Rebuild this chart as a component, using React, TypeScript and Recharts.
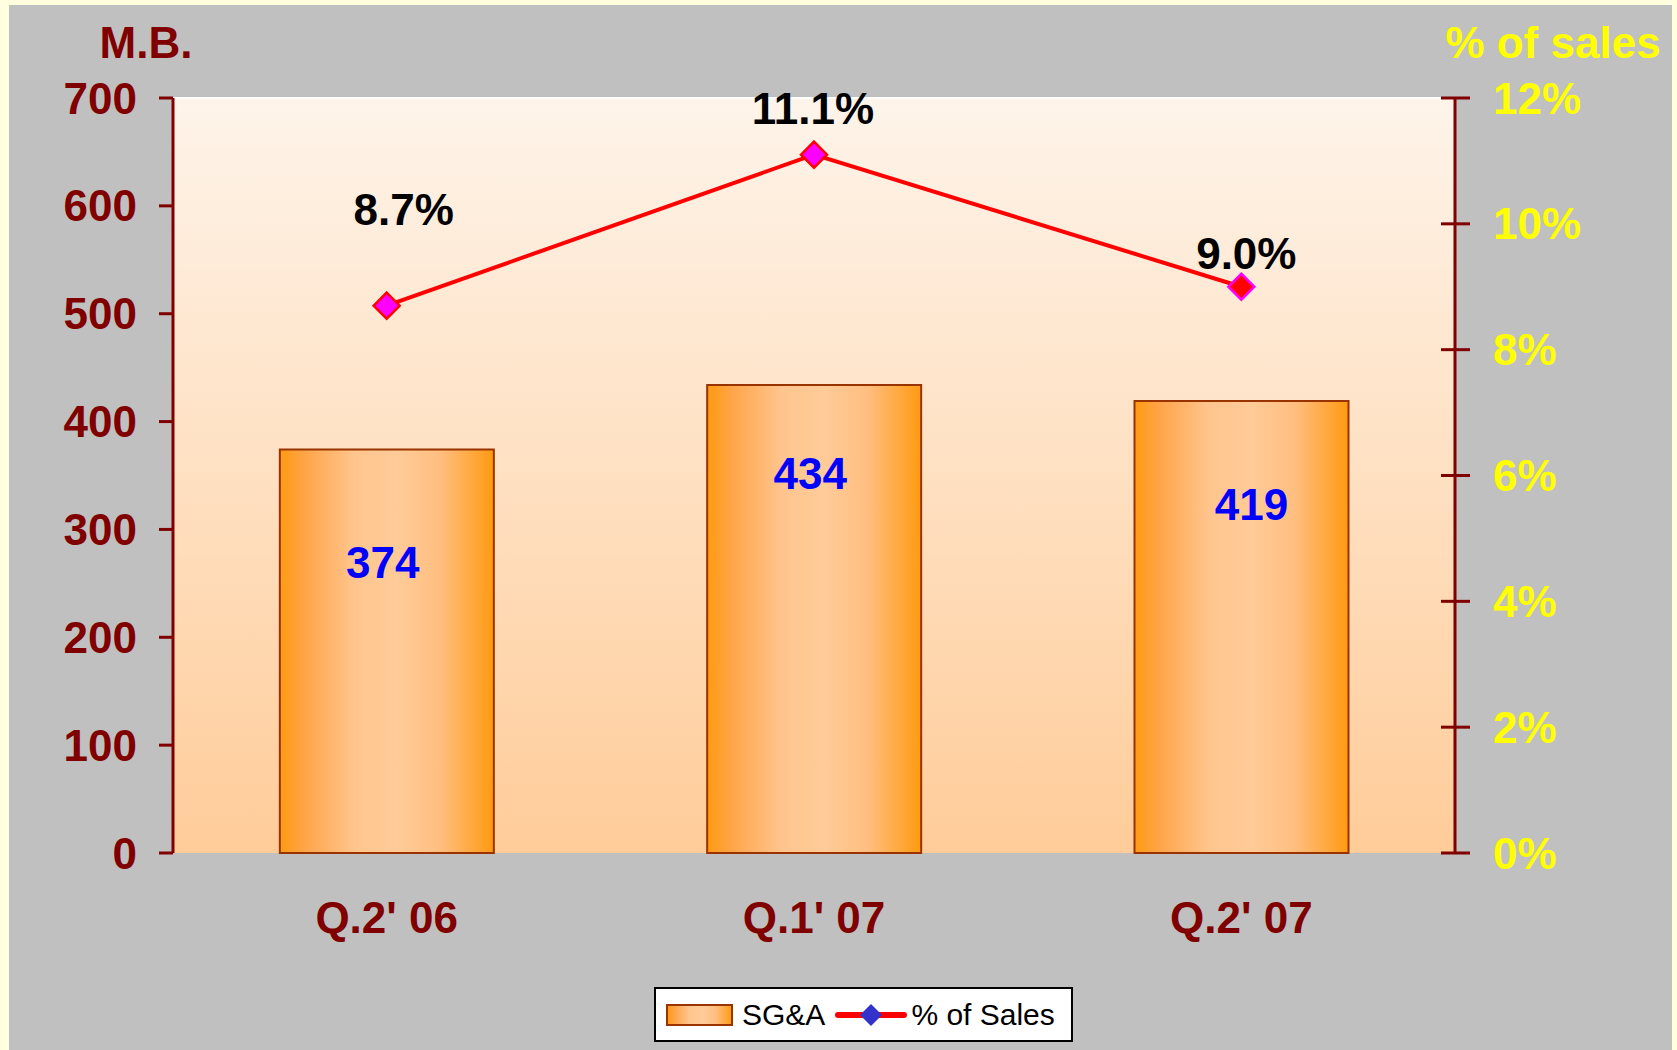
import { ComposedChart, Bar, Line, XAxis, YAxis, Legend, LabelList } from 'recharts';

const quarters = ["Q.2' 06", "Q.1' 07", "Q.2' 07"];
const sgaValues = [374, 434, 419];
const pctOfSales = [8.7, 11.1, 9.0];
const leftTicks = [0, 100, 200, 300, 400, 500, 600, 700];
const rightTicks = [0, 2, 4, 6, 8, 10, 12];
const edgeTicks = [0, 1, 2, 3];

const data = quarters.map((q, i) => ({ q, sga: sgaValues[i], pct: pctOfSales[i], idx: i + 0.5 }));

// hand-placed label nudges, as in the original slide
const pctLabelShift = [
  { dx: 17, dy: -96 },
  { dx: -1, dy: -46 },
  { dx: 5, dy: -33 },
];
const sgaLabelShift = [
  { dx: -4, dy: 113 },
  { dx: -4, dy: 89 },
  { dx: 10, dy: 103 },
];
const markerFill = ['#FF00FF', '#FF00FF', '#FF0000'];
const markerStroke = ['#FF0000', '#FF0000', '#FF00FF'];

const MAROON = '#800000';
const FONT = '"Liberation Sans", Arial, sans-serif';

function Diamond(props: any) {
  const { cx, cy, index } = props;
  if (cx == null || cy == null) return null;
  const r = 13;
  return (
    <path
      d={`M${cx},${cy - r} L${cx + r},${cy} L${cx},${cy + r} L${cx - r},${cy} Z`}
      fill={markerFill[index]}
      stroke={markerStroke[index]}
      strokeWidth={2.5}
    />
  );
}

function PctLabel(props: any) {
  const { x, y, index, value } = props;
  const s = pctLabelShift[index];
  return (
    <text x={x + s.dx} y={y + s.dy} textAnchor="middle" dominantBaseline="central"
      fontFamily={FONT} fontWeight="bold" fontSize={44} fill="#000000">
      {value.toFixed(1)}%
    </text>
  );
}

function SgaLabel(props: any) {
  const { x, y, width, index, value } = props;
  const s = sgaLabelShift[index];
  return (
    <text x={x + width / 2 + s.dx} y={y + s.dy} textAnchor="middle" dominantBaseline="central"
      fontFamily={FONT} fontWeight="bold" fontSize={44} fill="#0000FF">
      {value}
    </text>
  );
}

function RightTick(props: any) {
  const { x, y, payload } = props;
  const axisX = x - 38;
  return (
    <g>
      <line x1={axisX - 14} x2={axisX} y1={y} y2={y} stroke={MAROON} strokeWidth={3} />
      <text x={x} y={y} textAnchor="start" dominantBaseline="central"
        fontFamily={FONT} fontWeight="bold" fontSize={44} fill="#FFFF00">
        {payload.value}%
      </text>
    </g>
  );
}

function LegendBox() {
  return (
    <div style={{
      boxSizing: 'border-box', width: 419, height: 55, background: '#FFFFFF',
      border: '2px solid #000000', display: 'flex', alignItems: 'center',
      fontFamily: FONT, fontSize: 30, color: '#000000', paddingLeft: 10,
    }}>
      <svg width={68} height={24} style={{ marginRight: 8 }}>
        <rect x={1} y={2} width={65} height={20} fill="url(#barGrad)" stroke="#993300" strokeWidth={2} />
      </svg>
      <span style={{ marginRight: 10 }}>SG&amp;A</span>
      <svg width={72} height={30} style={{ marginRight: 4 }}>
        <line x1={3} x2={69} y1={15} y2={15} stroke="#FF0000" strokeWidth={6} strokeLinecap="round" />
        <path d="M36,4 L47,15 L36,26 L25,15 Z" fill="#3333CC" />
      </svg>
      <span>% of Sales</span>
    </div>
  );
}

export default function App() {
  return (
    <div style={{ position: 'absolute', left: 0, top: 0, width: 1677, height: 1050, background: '#FFFFE0' }}>
      <div style={{ position: 'absolute', left: 9, top: 5, width: 1663, height: 1045, background: '#C0C0C0' }} />
      <div style={{ position: 'absolute', left: 0, top: 0 }}>
        <ComposedChart
          width={1677}
          height={1050}
          data={data}
          margin={{ top: 98, right: 22, bottom: 97, left: 53 }}
          barCategoryGap="25%"
        >
          <defs>
            <linearGradient id="plotGrad" x1="0" y1="0" x2="0" y2="1">
              <stop offset="0%" stopColor="#FEF4EA" />
              <stop offset="100%" stopColor="#FFCC99" />
            </linearGradient>
            <linearGradient id="barGrad" x1="0" y1="0" x2="1" y2="0">
              <stop offset="0%" stopColor="#FF9A10" />
              <stop offset="12%" stopColor="#FFA54A" />
              <stop offset="35%" stopColor="#FFC58E" />
              <stop offset="55%" stopColor="#FFCB98" />
              <stop offset="75%" stopColor="#FFBE80" />
              <stop offset="100%" stopColor="#FF9A10" />
            </linearGradient>
          </defs>
          <rect x={173} y={98} width={1282} height={755} fill="url(#plotGrad)" />
          <line x1={173} x2={1455} y1={98} y2={98} stroke="#FFFFFF" strokeWidth={2} />
          <text x={146} y={42} textAnchor="middle" dominantBaseline="central"
            fontFamily={FONT} fontWeight="bold" fontSize={44} fill={MAROON}>M.B.</text>
          <text x={1553} y={42} textAnchor="middle" dominantBaseline="central"
            fontFamily={FONT} fontWeight="bold" fontSize={44} fill="#FFFF00">% of sales</text>

          <XAxis
            xAxisId="edges"
            type="number"
            dataKey="idx"
            domain={[0, 3]}
            ticks={edgeTicks}
            tick={false}
            height={0}
            axisLine={{ stroke: MAROON, strokeWidth: 3 }}
            tickLine={{ stroke: MAROON, strokeWidth: 2 }}
            tickSize={14}
          />
          <XAxis
            xAxisId="cat"
            dataKey="q"
            height={100}
            axisLine={false}
            tickLine={false}
            tickSize={0}
            tickMargin={49}
            tick={{ fill: MAROON, fontSize: 44, fontWeight: 'bold', fontFamily: FONT }}
          />
          <YAxis
            yAxisId="left"
            width={120}
            domain={[0, 700]}
            ticks={leftTicks}
            interval={0}
            axisLine={{ stroke: MAROON, strokeWidth: 3 }}
            tickLine={{ stroke: MAROON, strokeWidth: 3 }}
            tickSize={14}
            tickMargin={22}
            tick={{ fill: MAROON, fontSize: 44, fontWeight: 'bold', fontFamily: FONT }}
          />
          <YAxis
            yAxisId="right"
            orientation="right"
            width={200}
            domain={[0, 12]}
            ticks={rightTicks}
            interval={0}
            axisLine={{ stroke: MAROON, strokeWidth: 3 }}
            tickLine={{ stroke: MAROON, strokeWidth: 3 }}
            tickSize={15}
            tickMargin={23}
            tick={<RightTick />}
          />
          <Legend
            layout="horizontal"
            verticalAlign="middle"
            align="center"
            content={<LegendBox />}
            wrapperStyle={{ left: 654, top: 987, width: 419, height: 55 }}
          />
          <Bar
            xAxisId="cat"
            yAxisId="left"
            dataKey="sga"
            name="SG&A"
            fill="url(#barGrad)"
            stroke="#993300"
            strokeWidth={2}
            isAnimationActive={false}
          >
            <LabelList dataKey="sga" content={<SgaLabel />} />
          </Bar>
          <Line
            xAxisId="cat"
            yAxisId="right"
            dataKey="pct"
            name="% of Sales"
            stroke="#FF0000"
            strokeWidth={4}
            dot={<Diamond />}
            activeDot={false}
            isAnimationActive={false}
          >
            <LabelList dataKey="pct" content={<PctLabel />} />
          </Line>
        </ComposedChart>
      </div>
    </div>
  );
}
